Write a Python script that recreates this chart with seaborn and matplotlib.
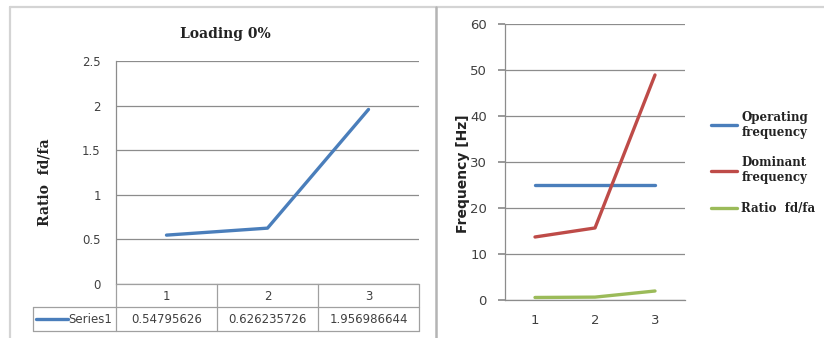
import matplotlib
matplotlib.use("Agg")
import matplotlib.pyplot as plt
from matplotlib.lines import Line2D
import numpy as np
import pandas as pd
import seaborn as sns

# data
cases = [1, 2, 3]
ratio = [0.54795626, 0.626235726, 1.956986644]
ratio_labels = ["0.54795626", "0.626235726", "1.956986644"]
operating = [25.0, 25.0, 25.0]
dominant = [13.70, 15.66, 48.92]
left_ticks = [0, 0.5, 1, 1.5, 2, 2.5]
left_tick_labels = ["0", "0.5", "1", "1.5", "2", "2.5"]
right_ticks = [0, 10, 20, 30, 40, 50, 60]

BLUE = "#4A7EBB"
RED = "#BE4B48"
GREEN = "#9BBB59"
GRID = "#8c8c8c"
TXT = "#404040"

sns.set_theme(style="white")
plt.rcParams["font.family"] = ["DejaVu Sans"]

W, H = 824, 338
fig = plt.figure(figsize=(W / 100, H / 100), dpi=100)
fig.patch.set_facecolor("white")


def fx(x):
    return x / W


def fy(y):
    return 1 - y / H


def rect(x0, y0, x1, y1):
    return [fx(x0), fy(y1), fx(x1) - fx(x0), fy(y0) - fy(y1)]


# outer frame lines
for xs, ys, c, lw in [
    ([10, 10], [7, 338], "#d4d4d4", 1.6),
    ([10, 824], [7, 7], "#d4d4d4", 1.6),
    ([436, 436], [7, 338], "#b4b4b4", 1.8),
]:
    fig.add_artist(Line2D([fx(v) for v in xs], [fy(v) for v in ys],
                          transform=fig.transFigure, color=c, lw=lw))

# ---------- left chart ----------
axl = fig.add_axes(rect(116, 61, 419, 284))
df_l = pd.DataFrame({"case": cases, "ratio": ratio})
sns.lineplot(data=df_l, x="case", y="ratio", ax=axl, color=BLUE, lw=2.4,
             legend=False)
axl.set_xlim(0.5, 3.5)
axl.set_ylim(0, 2.5)
axl.set_yticks(left_ticks)
axl.set_yticklabels(left_tick_labels)
axl.set_xticks([])
axl.set_xlabel("")
axl.set_ylabel("")
axl.grid(axis="y", color=GRID, lw=0.9)
axl.tick_params(axis="y", length=0, pad=11, labelsize=8.5, labelcolor=TXT)
for s in ["top", "right", "bottom"]:
    axl.spines[s].set_visible(False)
axl.spines["left"].set_color(GRID)
axl.spines["left"].set_linewidth(0.9)

fig.text(fx(225), fy(34), "Loading 0%", ha="center", va="center",
         fontsize=10, fontweight="bold", family="DejaVu Serif", color="#222222")
fig.text(fx(45), fy(182), "Ratio  fd/fa", ha="center", va="center", rotation=90,
         fontsize=10, fontweight="bold", family="DejaVu Serif", color="#222222")

# data table under the left chart
col_edges = [116, 217, 318, 419]
tbl_c = "#a0a0a0"
for xs, ys in [
    ([116, 419], [284, 284]),
    ([33, 419], [307, 307]),
    ([33, 419], [331, 331]),
    ([33, 33], [307, 331]),
] + [([x, x], [284, 331]) for x in col_edges]:
    fig.add_artist(Line2D([fx(v) for v in xs], [fy(v) for v in ys],
                          transform=fig.transFigure, color=tbl_c, lw=0.9))
for i, c in enumerate(cases):
    xc = (col_edges[i] + col_edges[i + 1]) / 2
    fig.text(fx(xc), fy(296), str(c), ha="center", va="center",
             fontsize=8.5, color=TXT)
    fig.text(fx(xc), fy(319.5), ratio_labels[i], ha="center", va="center",
             fontsize=8.5, color=TXT)
fig.add_artist(Line2D([fx(36), fx(68)], [fy(319), fy(319)],
                      transform=fig.transFigure, color=BLUE, lw=2.4))
fig.text(fx(112), fy(319.5), "Series1", ha="right", va="center",
         fontsize=8.5, color=TXT)

# ---------- right chart ----------
axr = fig.add_axes(rect(505, 24, 685, 300))
df_r = pd.DataFrame({
    "case": cases * 3,
    "value": operating + dominant + ratio,
    "series": ["Operating\nfrequency"] * 3 + ["Dominant\nfrequency"] * 3
              + ["Ratio  fd/fa"] * 3,
})
sns.lineplot(data=df_r, x="case", y="value", hue="series", ax=axr,
             palette=[BLUE, RED, GREEN], lw=2.4)
axr.set_xlim(0.5, 3.5)
axr.set_ylim(0, 60)
axr.set_yticks(right_ticks)
axr.set_xticks(cases)
axr.set_xlabel("")
axr.set_ylabel("")
axr.grid(axis="y", color=GRID, lw=0.9)
axr.tick_params(axis="y", length=5, color=GRID, pad=8, labelsize=9.5,
                labelcolor=TXT, left=True)
axr.tick_params(axis="x", length=0, pad=10, labelsize=9.5, labelcolor=TXT)
for s in ["top", "right"]:
    axr.spines[s].set_visible(False)
for s in ["left", "bottom"]:
    axr.spines[s].set_color(GRID)
    axr.spines[s].set_linewidth(0.9)

fig.text(fx(463), fy(174), "Frequency [Hz]", ha="center", va="center",
         rotation=90, fontsize=10, fontweight="bold", color="#222222")

leg = axr.legend(loc="upper left", frameon=False, handlelength=2.2,
                 handletextpad=0.4, labelspacing=1.5,
                 prop={"family": "DejaVu Serif", "weight": "bold", "size": 8.5})
leg.set_bbox_to_anchor((fx(700), fy(100)), transform=fig.transFigure)
for t in leg.get_texts():
    t.set_color("#222222")

fig.savefig("out.png", dpi=100, facecolor="white")
